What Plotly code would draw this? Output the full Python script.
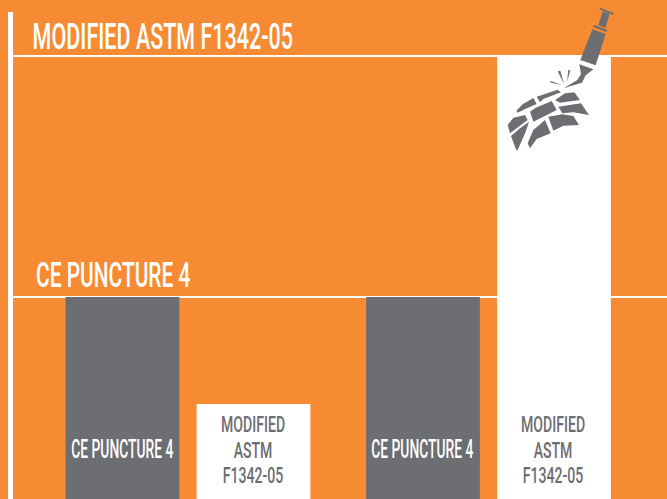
import plotly.graph_objects as go

groups = [0, 1]
ce_values = [100, 100]
astm_values = [47, 219.5]
ce_label = "CE PUNCTURE 4"
astm_label = "MODIFIED ASTM F1342-05"
astm_wrapped = "MODIFIED<br>ASTM<br>F1342-05"
ORANGE = "#F68B33"
GRAY = "#6D6E71"
FONT = "Roboto, sans-serif"
W, H = 667, 499
L, T = 13, 12
Y_PER_PX = 100 / 202.0


def px(x):
    return (x - L) / (W - L)


def py(y):
    return 1 - (y - T) / (H - T)


def yval(y):
    return (H - y) * Y_PER_PX


def icon(points):
    pts = [(490 + a / 3, b / 3) for a, b in points]
    return "M " + " L ".join(f"{px(a):.5f},{py(b):.5f}" for a, b in pts) + " Z"


ICON_PARTS = [
    [(330, 23), (371, 39), (369, 44), (328, 28)],
    [(338, 33), (359, 41), (346, 84), (325, 76)],
    [(312, 74), (352, 90), (349, 96), (309, 80)],
    [(307, 88), (347, 102), (317, 196), (271, 180)],
    [(268, 193), (310, 208), (287, 226), (276, 248), (222, 264), (262, 240), (273, 222)],
    [(203, 214), (211, 212), (222, 252)],
    [(235, 210), (241, 211), (231, 245)],
    [(180, 242), (183, 248), (216, 255)],
    [(79, 332), (98, 313), (130, 294), (140, 312), (107, 326), (83, 338)],
    [(140, 290), (203, 269), (213, 277), (160, 297), (150, 307)],
    [(195, 300), (225, 280), (253, 277), (270, 300), (210, 308)],
    [(120, 335), (137, 323), (185, 303), (200, 330), (130, 365)],
    [(205, 320), (273, 310), (297, 345), (250, 337), (217, 340)],
    [(175, 350), (217, 343), (250, 348), (267, 375), (220, 377), (190, 392)],
    [(113, 430), (130, 390), (165, 360), (182, 400), (140, 417), (120, 445)],
    [(63, 408), (90, 385), (117, 365), (107, 395), (82, 452), (78, 448)],
    [(53, 375), (70, 353), (105, 345), (113, 360), (60, 400)],
]

fig = go.Figure()
fig.add_bar(x=groups, y=ce_values, marker=dict(color=GRAY, line=dict(width=0)), name=ce_label)
fig.add_bar(x=groups, y=astm_values, marker=dict(color="white", line=dict(width=0)), name=astm_label)
x0 = (188 - L) / 300.5
fig.update_layout(
    width=W, height=H, autosize=False, showlegend=False,
    margin=dict(l=L, r=0, t=T, b=0),
    paper_bgcolor=ORANGE, plot_bgcolor=ORANGE,
    barmode="group", bargap=0.128, bargroupgap=0.132,
    font=dict(family=FONT),
    xaxis=dict(range=[-x0, (W - L) / 300.5 - x0], showgrid=False, zeroline=False,
               showticklabels=False, ticks=""),
    yaxis=dict(range=[0, (H - T) * Y_PER_PX], tickvals=[ce_values[0], astm_values[1]],
               showticklabels=False, ticks="", gridcolor="white", gridwidth=2,
               showline=True, linecolor="white", linewidth=5, zeroline=False),
    shapes=[dict(type="path", xref="paper", yref="paper", path=icon(p),
                 fillcolor=GRAY, line=dict(width=0), layer="above") for p in ICON_PARTS],
)

for i in groups:
    fig.add_annotation(x=i - 0.218, y=yval(449.5), text=ce_label, showarrow=False,
                       font=dict(color="white", size=25, weight=500), yanchor="middle")
    fig.add_annotation(x=i + 0.216, y=yval(450), text=astm_wrapped, showarrow=False,
                       font=dict(color=GRAY, size=22, weight=500), yanchor="middle")
fig.add_annotation(xref="paper", x=px(162.5), y=yval(37), text=astm_label, showarrow=False,
                   xanchor="center", yanchor="middle", font=dict(color="white", size=36, weight=500))
fig.add_annotation(xref="paper", x=px(112.5), y=yval(275), text=ce_label, showarrow=False,
                   xanchor="center", yanchor="middle", font=dict(color="white", size=35, weight=500))

# The reference face is a narrow display type; no narrow face is installed, so squeeze the real text.
post = """
document.body.style.margin = '0';
document.querySelectorAll('.annotation-text').forEach(function (t) {
  var lines = t.querySelectorAll('tspan.line');
  var s;
  if (lines.length === 3) {
    ['3.1px', '28.6px', '54.1px'].forEach(function (d, i) { lines[i].setAttribute('dy', d); });
    s = 0.64;
  } else {
    s = parseFloat(t.style.fontSize) > 30 ? 0.598 : 0.553;
  }
  var b = t.getBBox(), cx = b.x + b.width / 2;
  var old = t.getAttribute('transform') || '';
  t.setAttribute('transform', old + ' translate(' + cx + ',0) scale(' + s + ',1) translate(' + (-cx) + ',0)');
});
"""
fig.write_html("out.html", post_script=post, config=dict(displayModeBar=False))
